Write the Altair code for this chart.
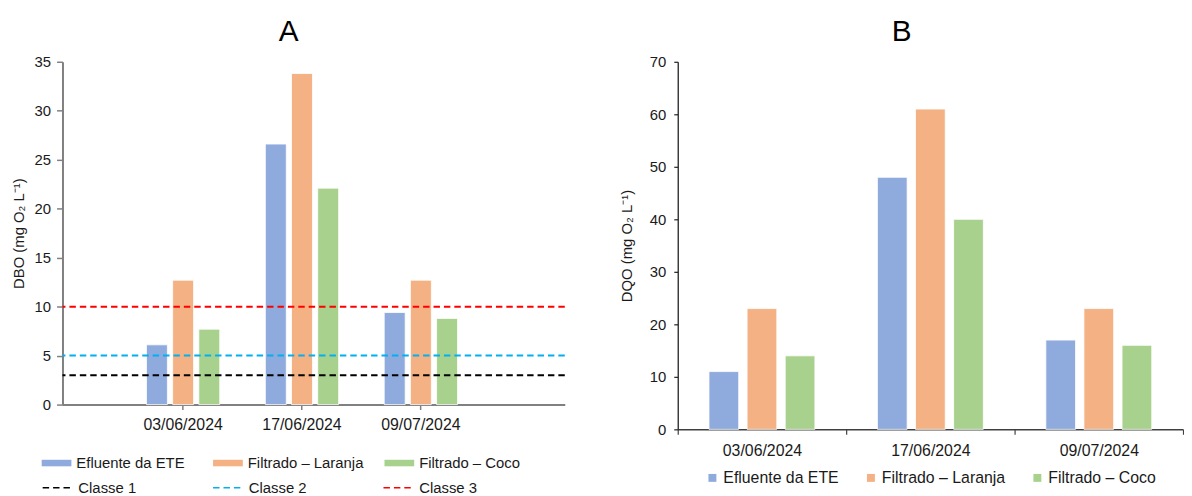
import altair as alt
import pandas as pd

# ---- data ----
dates = ["03/06/2024", "17/06/2024", "09/07/2024"]
series = ["Efluente da ETE", "Filtrado – Laranja", "Filtrado – Coco"]

dbo_efluente = [6.1, 26.6, 9.4]
dbo_laranja = [12.7, 33.8, 12.7]
dbo_coco = [7.7, 22.1, 8.8]

dqo_efluente = [11, 48, 17]
dqo_laranja = [23, 61, 23]
dqo_coco = [14, 40, 16]

classes = ["Classe 1", "Classe 2", "Classe 3"]
class_limits = [3, 5, 10]

bar_colors = ["#8FAADC", "#F4B183", "#A9D18E"]
class_colors = ["#000000", "#00B0F0", "#FF0000"]

FONT = "Liberation Sans"
TXT = "#1a1a1a"

df_a = pd.DataFrame({
    "Data": dates * 3,
    "Série": [s for s in series for _ in dates],
    "valor": dbo_efluente + dbo_laranja + dbo_coco,
})
df_b = pd.DataFrame({
    "Data": dates * 3,
    "Série": [s for s in series for _ in dates],
    "valor": dqo_efluente + dqo_laranja + dqo_coco,
})
df_lim = pd.DataFrame({"Classe": classes, "valor": class_limits})

bar_path = "M-1,-0.22L1,-0.22L1,0.22L-1,0.22Z"

# ---------------- Chart A ----------------
ytitle_a = "DBO (mg O₂ L⁻¹)"
bars_a = alt.Chart(df_a).mark_bar(stroke="white", strokeWidth=0.8).encode(
    x=alt.X(
        "Data:N", sort=dates,
        scale=alt.Scale(paddingInner=0, paddingOuter=0.6125, align=0.42),
        axis=alt.Axis(title=None, labelAngle=0, labelFontSize=16, labelColor=TXT,
                      labelFont=FONT, domainColor="#808080", domainWidth=2,
                      tickColor="#808080", tickWidth=1.5, tickSize=5, labelPadding=7),
    ),
    xOffset=alt.XOffset("Série:N", sort=series,
                        scale=alt.Scale(paddingInner=0.2, paddingOuter=0.87)),
    y=alt.Y(
        "valor:Q",
        scale=alt.Scale(domain=[0, 35], nice=False),
        axis=alt.Axis(title=ytitle_a, values=[0, 5, 10, 15, 20, 25, 30, 35], grid=False,
                      labelFontSize=15, labelColor=TXT, labelFont=FONT,
                      titleFontSize=15, titleFont=FONT, titleColor=TXT,
                      titleFontWeight="normal", titlePadding=8,
                      domainColor="#808080", domainWidth=2, tickColor="#808080",
                      tickWidth=1.5, tickSize=6, labelPadding=6),
    ),
    fill=alt.Fill(
        "Série:N", sort=series,
        scale=alt.Scale(domain=series, range=bar_colors),
        legend=alt.Legend(title=None, orient="none", legendX=-21, legendY=390,
                          direction="horizontal", columns=3, gridAlign="all",
                          columnPadding=21, symbolType=bar_path, symbolSize=900,
                          symbolStrokeWidth=0, labelOffset=5, labelFontSize=15,
                          labelFont=FONT, labelColor=TXT, padding=0),
    ),
)

rules_a = alt.Chart(df_lim).mark_rule(strokeWidth=2, strokeDash=[6.5, 4]).encode(
    y=alt.Y("valor:Q", title=ytitle_a),
    stroke=alt.Stroke(
        "Classe:N", sort=classes,
        scale=alt.Scale(domain=classes, range=class_colors),
        legend=alt.Legend(title=None, orient="none", legendX=-21, legendY=414,
                          direction="horizontal", columns=3, gridAlign="all",
                          columnPadding=74, symbolType="stroke", symbolSize=900,
                          symbolStrokeWidth=1.5, symbolDash=[6.5, 4], labelOffset=5,
                          labelFontSize=15, labelFont=FONT, labelColor=TXT, padding=0),
    ),
)

chart_a = alt.layer(bars_a, rules_a).properties(
    width=507, height=346,
    title=alt.TitleParams("A", fontSize=30, font=FONT, fontWeight="normal",
                          color="#000000", anchor="middle", frame="bounds",
                          baseline="alphabetic", offset=-16),
)

# ---------------- Chart B ----------------
chart_b = alt.Chart(df_b).mark_bar(stroke="white", strokeWidth=0.8).encode(
    x=alt.X(
        "Data:N", sort=dates,
        scale=alt.Scale(paddingInner=0, paddingOuter=0),
        axis=alt.Axis(title=None, labelAngle=0, labelFontSize=16, labelColor=TXT,
                      labelFont=FONT, domainColor="#404040", domainWidth=1.5,
                      tickColor="#404040", tickWidth=1.2, tickSize=5, labelPadding=8,
                      tickBand="extent"),
    ),
    xOffset=alt.XOffset("Série:N", sort=series,
                        scale=alt.Scale(paddingInner=0.22, paddingOuter=0.82)),
    y=alt.Y(
        "valor:Q",
        scale=alt.Scale(domain=[0, 70], nice=False),
        axis=alt.Axis(title="DQO (mg O₂ L⁻¹)", values=[0, 10, 20, 30, 40, 50, 60, 70],
                      grid=False, labelFontSize=15, labelColor=TXT, labelFont=FONT,
                      titleFontSize=15, titleFont=FONT, titleColor=TXT,
                      titleFontWeight="normal", titlePadding=15,
                      domainColor="#202020", domainWidth=1.3, tickColor="#202020",
                      tickWidth=1.2, tickSize=4, labelPadding=8),
    ),
    fill=alt.Fill(
        "Série:N", sort=series,
        scale=alt.Scale(domain=series, range=bar_colors),
        legend=alt.Legend(title=None, orient="none", legendX=27, legendY=412,
                          direction="horizontal", columnPadding=24,
                          symbolType="square", symbolSize=64, symbolStrokeWidth=0,
                          labelOffset=3, labelFontSize=16, labelFont=FONT,
                          labelColor=TXT, padding=0),
    ),
).properties(
    width=510, height=371,
    title=alt.TitleParams("B", fontSize=30, font=FONT, fontWeight="normal",
                          color="#000000", anchor="middle", frame="bounds",
                          baseline="alphabetic", offset=-16),
)

chart = alt.hconcat(chart_a, chart_b, spacing=54).resolve_scale(
    fill="independent", stroke="independent", xOffset="independent"
).configure(
    font=FONT,
    padding={"left": 3, "top": 7, "right": 0, "bottom": 0},
).configure_view(strokeWidth=0)

chart.save("out.html", embed_options={"renderer": "svg", "actions": False})
